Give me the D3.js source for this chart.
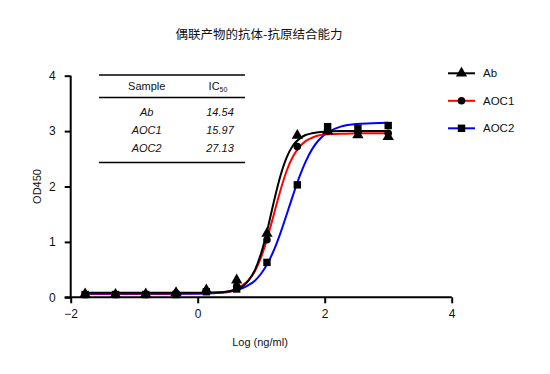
<!DOCTYPE html>
<html>
<head>
<meta charset="utf-8">
<script src="https://cdn.jsdelivr.net/npm/d3@7"></script>
<style>
  body { margin: 0; background: #fff; }
  svg text { font-family: "Liberation Sans", Arial, sans-serif; fill: #111; }
</style>
</head>
<body>
<div id="chart"></div>
<script>
// measured points (log ng/ml vs OD450)
const logConc = [-1.773, -1.295, -0.818, -0.341, 0.136, 0.614, 1.091, 1.569, 2.046, 2.523, 3.0];
const abOD   = [0.06, 0.05, 0.06, 0.08, 0.13, 0.31, 1.15, 2.92, 3.00, 2.93, 2.90];
const aoc1OD = [0.05, 0.05, 0.05, 0.07, 0.11, 0.20, 1.04, 2.72, 3.00, 2.98, 2.96];
const aoc2OD = [0.05, 0.05, 0.05, 0.05, 0.10, 0.15, 0.63, 2.03, 3.08, 3.05, 3.10];

// fitted curves
const fitX    = [-1.773, -1, 0, 0.25, 0.5, 0.7, 0.8, 0.9, 1.0, 1.1, 1.2, 1.3, 1.4, 1.5, 1.6, 1.7, 1.8, 1.9, 2.0, 2.25, 2.5, 2.75, 3.0];
const abFit   = [0.08, 0.08, 0.081, 0.085, 0.11, 0.19, 0.30, 0.49, 0.80, 1.23, 1.73, 2.18, 2.52, 2.74, 2.86, 2.93, 2.96, 2.98, 2.99, 3.0, 3.0, 3.0, 3.0];
const aoc1Fit = [0.07, 0.07, 0.072, 0.08, 0.11, 0.21, 0.31, 0.47, 0.73, 1.08, 1.50, 1.92, 2.28, 2.54, 2.71, 2.82, 2.88, 2.92, 2.94, 2.95, 2.96, 2.96, 2.96];
const aoc2Fit = [0.06, 0.06, 0.064, 0.073, 0.10, 0.16, 0.22, 0.30, 0.43, 0.61, 0.85, 1.15, 1.49, 1.84, 2.17, 2.45, 2.67, 2.83, 2.94, 3.08, 3.13, 3.14, 3.15];

const seriesNames = ["Ab", "AOC1", "AOC2"];
const seriesColors = ["#000000", "#ff0000", "#0000ff"];
const seriesShapes = [d3.symbolTriangle, d3.symbolCircle, d3.symbolSquare];

const xTicks = [-2, 0, 2, 4];
const yTicks = [0, 1, 2, 3, 4];

const tableSamples = ["Ab", "AOC1", "AOC2"];
const tableIC50 = ["14.54", "15.97", "27.13"];

const width = 550, height = 374;

const svg = d3.select("#chart").append("svg")
  .attr("width", width)
  .attr("height", height);

const x = d3.scaleLinear().domain([-2, 4]).range([70.7, 451.7]);
const y = d3.scaleLinear().domain([0, 4]).range([297.3, 75.7]);

// title
svg.append("text")
  .attr("x", 259).attr("y", 39)
  .attr("text-anchor", "middle")
  .style("font-family", "'Noto Sans CJK SC', sans-serif")
  .style("font-size", "12.5px")
  .text("偶联产物的抗体-抗原结合能力");

// axes
const xAxis = svg.append("g")
  .attr("transform", "translate(0," + y(0) + ")")
  .call(d3.axisBottom(x).tickValues(xTicks).tickSize(6).tickPadding(6).tickFormat(d3.format("d")));
const yAxis = svg.append("g")
  .attr("transform", "translate(" + x(-2) + ",0)")
  .call(d3.axisLeft(y).tickValues(yTicks).tickSize(6).tickPadding(9).tickFormat(d3.format("d")));

[xAxis, yAxis].forEach(g => {
  g.select(".domain").attr("stroke", "#000").attr("stroke-width", 2);
  g.selectAll(".tick line").attr("stroke", "#000").attr("stroke-width", 2);
  g.selectAll(".tick text").style("font-size", "12px").attr("fill", "#111");
});
xAxis.select(".domain").attr("d", "M" + (x(-2) - 6) + ",0H" + x(4));
yAxis.select(".domain").attr("d", "M0," + y(0) + "V" + y(4));

svg.append("text")
  .attr("x", 260).attr("y", 346)
  .attr("text-anchor", "middle")
  .style("font-size", "11px")
  .text("Log (ng/ml)");

svg.append("text")
  .attr("transform", "translate(41," + y(2) + ") rotate(-90)")
  .attr("text-anchor", "middle")
  .style("font-size", "11px")
  .text("OD450");

// curves
const line = d3.line()
  .x(d => x(d[0]))
  .y(d => y(d[1]))
  .curve(d3.curveMonotoneX);

const fits = [abFit, aoc1Fit, aoc2Fit];
const points = [abOD, aoc1OD, aoc2OD];

// draw in reverse so black sits on top like the original
[2, 1, 0].forEach(i => {
  svg.append("path")
    .datum(fitX.map((v, j) => [v, fits[i][j]]))
    .attr("fill", "none")
    .attr("stroke", seriesColors[i])
    .attr("stroke-width", 2)
    .attr("d", line);
});

[2, 1, 0].forEach(i => {
  svg.selectAll(".pt" + i)
    .data(logConc.map((v, j) => [v, points[i][j]]))
    .enter()
    .append("path")
    .attr("d", d3.symbol().type(seriesShapes[i]).size(i == 1 ? 45 : 55))
    .attr("transform", d => "translate(" + x(d[0]) + "," + y(d[1]) + ")")
    .attr("fill", "#000");
});

// IC50 table
const tLeft = 99, tRight = 245;
const colA = 146.7, colB = 220;
[75, 97.5, 162.5].forEach(ly => {
  svg.append("line").attr("x1", tLeft).attr("x2", tRight).attr("y1", ly).attr("y2", ly)
    .attr("stroke", "#000").attr("stroke-width", 1.5);
});

svg.append("text").attr("x", colA).attr("y", 90).attr("text-anchor", "middle")
  .style("font-size", "11px").text("Sample");
const ic = svg.append("text").attr("x", colB - 2).attr("y", 90).attr("text-anchor", "middle")
  .style("font-size", "11px");
ic.append("tspan").text("IC");
ic.append("tspan").attr("dy", 2).style("font-size", "7px").text("50");

tableSamples.forEach((s, i) => {
  const ty = 116 + i * 18;
  svg.append("text").attr("x", colA).attr("y", ty).attr("text-anchor", "middle")
    .style("font-size", "11px").style("font-style", "italic").text(s);
  svg.append("text").attr("x", colB).attr("y", ty).attr("text-anchor", "middle")
    .style("font-size", "11px").style("font-style", "italic").text(tableIC50[i]);
});

// legend
const legend = svg.append("g");
seriesNames.forEach((name, i) => {
  const ly = 73.3 + i * 27.5;
  legend.append("line").attr("x1", 448).attr("x2", 475).attr("y1", ly).attr("y2", ly)
    .attr("stroke", seriesColors[i]).attr("stroke-width", 2);
  legend.append("path")
    .attr("d", d3.symbol().type(seriesShapes[i]).size(i == 1 ? 45 : 55))
    .attr("transform", "translate(461.5," + ly + ")")
    .attr("fill", "#000");
  legend.append("text").attr("x", 483).attr("y", ly + 4)
    .style("font-size", "11.5px").text(name);
});
</script>
</body>
</html>
